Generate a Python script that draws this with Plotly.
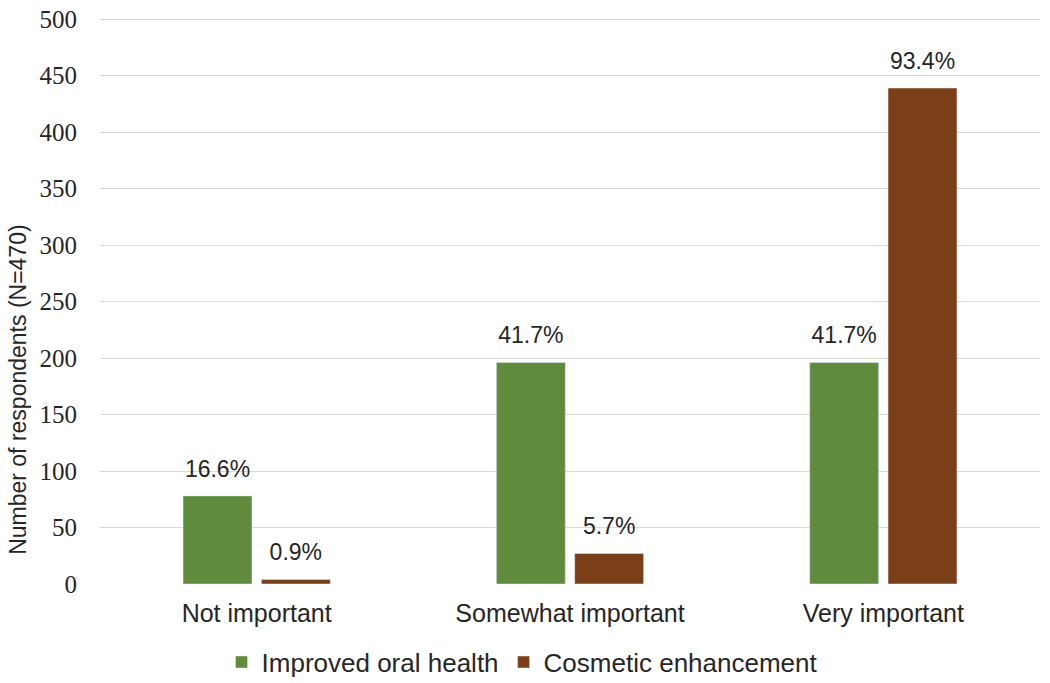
import plotly.graph_objects as go

categories = ["Not important", "Somewhat important", "Very important"]
oral_health = [78, 196, 196]
oral_health_pct = ["16.6%", "41.7%", "41.7%"]
cosmetic = [4, 27, 439]
cosmetic_pct = ["0.9%", "5.7%", "93.4%"]

label_font = dict(family="Liberation Sans, Arial", size=23, color="#262626")

fig = go.Figure()
fig.add_trace(go.Bar(
    name="Improved oral health", x=categories, y=oral_health,
    marker_color="#608a3c", offsetgroup="a",
))
fig.add_trace(go.Bar(
    name="Cosmetic enhancement", x=categories, y=cosmetic,
    marker_color="#7a3f17", offsetgroup="b",
))
# percentage labels, aligned with the bars through grouped scatter
for vals, pcts, grp in [(oral_health, oral_health_pct, "a"), (cosmetic, cosmetic_pct, "b")]:
    fig.add_trace(go.Scatter(
        x=categories, y=vals, text=pcts, mode="markers+text", textposition="top center",
        marker=dict(size=20, opacity=0), textfont=label_font, offsetgroup=grp,
        showlegend=False, hoverinfo="skip", cliponaxis=False,
    ))

fig.update_layout(
    width=1050, height=683,
    margin=dict(l=100, r=10, t=18, b=99, autoexpand=False),
    paper_bgcolor="white", plot_bgcolor="white",
    barmode="group", bargap=0.5, bargroupgap=0.12,
    scattermode="group", scattergap=0.5,
    font=dict(family="Liberation Sans, Arial", size=18, color="#262626"),
    showlegend=True,
    legend=dict(orientation="h", x=0.449, xanchor="center", y=-0.138, yanchor="middle",
                font=dict(size=26), traceorder="normal"),
    xaxis=dict(showgrid=False, showline=False, ticks="", tickfont=dict(size=25),
               automargin=False, ticklabelstandoff=12),
    yaxis=dict(range=[0, 501], tickvals=[0, 50, 100, 150, 200, 250, 300, 350, 400, 450, 500],
               showgrid=True, gridcolor="#d9d9d9", gridwidth=1.3,
               zeroline=False, showline=False, ticks="", automargin=False,
               ticklabeloverflow="allow",
               tickfont=dict(family="Liberation Serif, Times New Roman", size=25, color="#262626"),
               ticklabelstandoff=22),
    annotations=[dict(
        text="Number of respondents (N=470)", textangle=-90,
        xref="paper", yref="paper", x=0, y=0.343, xshift=-82,
        showarrow=False, font=dict(size=23, color="#262626"),
        xanchor="center", yanchor="middle",
    )],
)

fig.write_html("out.html", config={"displayModeBar": False},
               post_script="document.body.style.margin='0';document.body.style.overflow='hidden';")
